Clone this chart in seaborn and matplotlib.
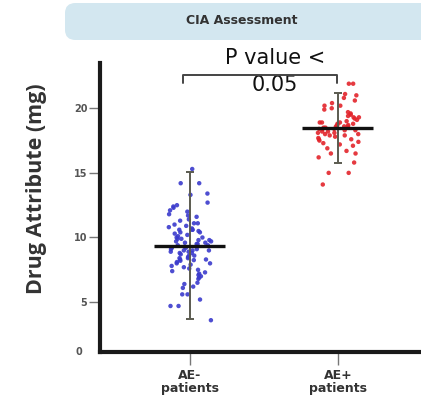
import numpy as np
import pandas as pd
import matplotlib
matplotlib.use("Agg")
import matplotlib.pyplot as plt
from matplotlib.patches import FancyBboxPatch
import seaborn as sns

# Values (mg)
groups = ["AE-\npatients", "AE+\npatients"]

ae_neg = [15.3, 14.2, 14.2, 13.3, 13.4, 12.7, 12.4, 12.5, 12.1, 12.0,
          11.8, 11.7, 11.6, 11.3, 11.1, 11.1, 10.8, 10.6, 10.6, 10.9,
          10.4, 10.5, 10.2, 10.3, 10.7, 10.0, 9.9, 9.9, 9.6, 9.8,
          9.7, 9.5, 9.4, 9.6, 9.3, 9.2, 9.1, 9.0, 9.0, 9.4,
          9.2, 8.9, 8.8, 8.7, 8.5, 8.3, 8.25, 8.2, 8.3, 8.4,
          8.1, 8.0, 7.9, 7.8, 7.6, 7.7, 7.2, 7.0, 7.1, 6.8,
          6.4, 6.5, 6.1, 6.2, 5.6, 5.6, 4.7, 4.7, 3.6,
          10.1, 9.8, 9.5, 10.4, 11.4, 8.6, 8.9, 9.1, 10.0, 11.0,
          7.4, 12.3, 10.6, 9.7, 8.0, 7.5, 8.8, 6.9, 8.4, 9.0, 7.3,
          5.2, 8.6]

ae_pos = [21.9, 21.9, 21.1, 21.0, 20.8, 20.4, 20.2, 20.2, 19.9, 19.7,
          19.6, 19.3, 19.3, 18.9, 18.9, 18.8, 19.1, 19.5, 18.7, 18.6,
          18.5, 18.5, 18.4, 18.3, 18.6, 18.2, 18.4, 18.1, 18.0, 18.7,
          18.3, 18.5, 18.2, 17.9, 18.0, 17.8, 17.6, 17.7, 17.5, 17.4,
          17.2, 17.1, 17.3, 16.9, 16.7, 16.5, 16.5, 16.2, 15.8, 15.0,
          15.0, 14.1, 19.0, 18.8, 19.4, 20.0, 18.6, 18.9, 17.9, 18.1,
          19.2, 18.4, 20.6, 17.6]

# whisker ends as drawn in the reference
whisker_low = [3.7, 15.8]
whisker_high = [15.1, 21.2]

y_ticks = [5, 10, 15, 20]

df = pd.DataFrame({
    "group": [groups[0]] * len(ae_neg) + [groups[1]] * len(ae_pos),
    "value": ae_neg + ae_pos,
})
means = df.groupby("group", sort=False)["value"].mean().reindex(groups).values

sns.set_theme(style="white")
plt.rcParams["font.family"] = ["DejaVu Sans"]

fig = plt.figure(figsize=(4.21, 4.04), dpi=100)
ax = fig.add_axes([0.2375, 0.1287, 0.7625, 0.7153])

np.random.seed(3)
sns.stripplot(data=df, x="group", y="value", hue="group", order=groups,
              palette={groups[0]: "#3b3bcc", groups[1]: "#e3242b"},
              jitter=0.15, size=3.2, linewidth=0, alpha=0.9,
              legend=False, ax=ax, zorder=2)

xs = np.arange(len(groups))
ax.errorbar(xs, means,
            yerr=[means - np.array(whisker_low), np.array(whisker_high) - means],
            fmt="none", ecolor="#5b5b50", elinewidth=1.4, capsize=3,
            capthick=1.4, zorder=3)
ax.hlines(means, xs - 0.24, xs + 0.24, color="#111111", lw=2.4, zorder=4)

ax.set_xlim(-0.608, 1.561)
ax.set_ylim(1.14, 23.5)
ax.set_yticks(y_ticks)
ax.set_yticklabels([str(t) for t in y_ticks], fontsize=7, fontweight="bold",
                   color="#555555")
ax.text(-0.055, 0.0, "0", transform=ax.transAxes, ha="right", va="center",
        fontsize=7, fontweight="bold", color="#555555")
ax.set_xticks(xs)
ax.set_xticklabels(groups, fontsize=9, fontweight="bold", color="#333333",
                   linespacing=1.05)
ax.tick_params(axis="y", direction="out", length=8, width=1, color="#777777",
               pad=1, left=True)
ax.tick_params(axis="x", direction="out", length=9, width=1, color="#777777",
               pad=3, bottom=True)

for s in ["top", "right"]:
    ax.spines[s].set_visible(False)
for s in ["left", "bottom"]:
    ax.spines[s].set_linewidth(3)
    ax.spines[s].set_color("#1a1a1a")

ax.set_xlabel("")
ax.set_ylabel("Drug Attribute (mg)", fontsize=15.5, fontweight="bold",
              color="#333333", family=["Open Sans", "DejaVu Sans"])
ax.yaxis.set_label_coords(-0.165, 0.564)

# significance bracket
ax.plot([-0.047, -0.047, 0.993, 0.993], [21.95, 22.56, 22.56, 21.95],
        color="#444444", lw=1.4, clip_on=False, zorder=5)
ax.text(0.574, 22.85, "P value <\n0.05", ha="center", va="center",
        fontsize=15, color="#111111", linespacing=1.4, clip_on=False)

# title banner
banner = FancyBboxPatch((65 / 421, 1 - 40 / 404), 0.9, 37 / 404,
                        boxstyle="round,pad=0,rounding_size=0.025",
                        transform=fig.transFigure, facecolor="#d3e7f0",
                        edgecolor="none", zorder=0)
fig.patches.append(banner)
fig.text(242 / 421, 1 - 21 / 404, "CIA Assessment", ha="center",
         va="center", fontsize=9, fontweight="bold", color="#333333")

fig.savefig("out.png", dpi=100)
